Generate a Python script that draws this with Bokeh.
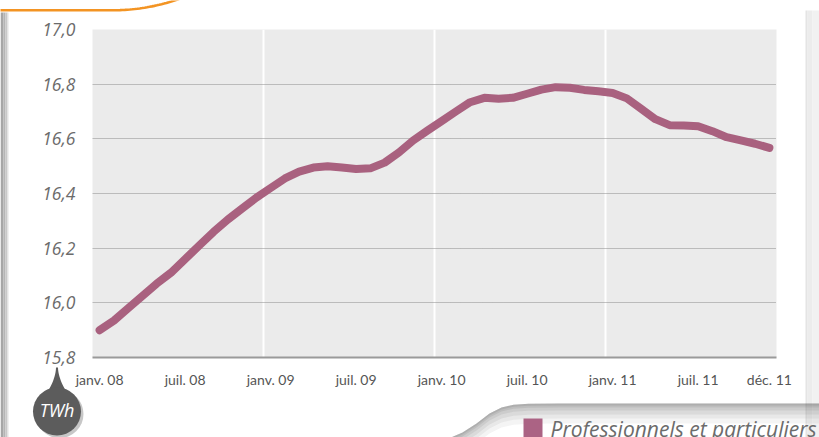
import numpy as np
from bokeh.plotting import figure
from bokeh.models import FixedTicker, CustomJSTickFormatter, Range1d
from bokeh.core.properties import value
from bokeh.embed import file_html
from bokeh.resources import INLINE

# ---------------- data ----------------
months = list(range(48))  # janv. 2008 .. déc. 2011
values = [15.90, 15.935, 15.98, 16.025, 16.07, 16.11, 16.16, 16.21, 16.26, 16.305,
          16.345, 16.385, 16.42, 16.455, 16.48, 16.495, 16.50, 16.495, 16.49, 16.492,
          16.513, 16.55, 16.594, 16.63, 16.665, 16.70, 16.734, 16.75, 16.747, 16.75,
          16.765, 16.78, 16.789, 16.787, 16.779, 16.774, 16.768, 16.748, 16.71, 16.672,
          16.65, 16.649, 16.646, 16.628, 16.606, 16.594, 16.582, 16.567]
tick_months = [0, 6, 12, 18, 24, 30, 36, 42, 47]
tick_labels = ["janv. 08", "juil. 08", "janv. 09", "juil. 09", "janv. 10",
               "juil. 10", "janv. 11", "juil. 11", "déc. 11"]
y_ticks = [15.8, 16.0, 16.2, 16.4, 16.6, 16.8, 17.0]
year_separators = [11.5, 23.5, 35.5]
series_name = "Professionnels et particuliers"
unit = "TWh"

# ---------------- layout ----------------
W, H = 819, 437
FL, FT, FW, FH = 92, 29, 684, 328   # plot frame position (px)
LINE_COLOR = "#a9617f"
GREY_TXT = "#6b6b6b"

# ===== background / decoration layer (pixel coordinates, y downwards) =====
bg = figure(width=W, height=H, x_range=Range1d(0, W), y_range=Range1d(H, 0),
            output_backend="svg", toolbar_location=None,
            x_axis_type=None, y_axis_type=None,
            min_border=0, min_border_left=0, min_border_right=0,
            min_border_top=0, min_border_bottom=0)
bg.background_fill_color = "white"
bg.border_fill_color = "white"
bg.outline_line_color = None
bg.grid.visible = False

# left page shadow
for x0, x1, c in [(0, 3, "#a6a6a6"), (3, 5, "#b4b4b4"), (5, 7, "#c8c8c8"), (7, 8, "#e2e2e2")]:
    bg.quad(left=x0, right=x1, top=12, bottom=H, fill_color=c, line_color=None)
# right page shadow
for x0, x1, c in [(805, 807, "#e4e4e4"), (807, 812, "#ececec"), (812, 819, "#f1f1f1")]:
    bg.quad(left=x0, right=x1, top=10, bottom=H, fill_color=c, line_color=None)

# orange rounded edge at the top left
t = np.linspace(0, 0.36, 30)
ox = np.concatenate([[-5.0], 112 + 200 * np.sin(t)])
oy = np.concatenate([[9.8], -190.2 + 200 * np.cos(t)])
bg.line(ox, oy, line_color="#f39423", line_width=2.6)

# bottom-right tab shadow
ex = np.array([430, 448, 462, 476, 489, 501, 513, 528, 560, 819], dtype=float)
ey = np.array([445, 438, 432, 423, 413, 407, 404.3, 403.2, 403, 403], dtype=float)
for h, a in [(20, 0.05), (15, 0.06), (11, 0.07), (7, 0.08), (4, 0.09), (2, 0.10)]:
    bg.patch(np.concatenate([ex, ex[::-1]]), np.concatenate([ey, ey[::-1] + h]),
             fill_color="#303030", fill_alpha=a, line_color=None)

# legend
bg.quad(left=523, right=542, top=418, bottom=437, fill_color="#ab6384", line_color=None)
bg.text(x=[550], y=[428], text=[series_name], text_font=value("Open Sans"),
        text_font_style="italic", text_font_size="21px", text_color=GREY_TXT,
        text_baseline="alphabetic")

# TWh bubble
cx, cy, r = 56.5, 411, 24
bg.circle(x=[cx + 2.5], y=[cy + 2.5], radius=r, fill_color="black", fill_alpha=0.22,
          line_color=None)
py_ = np.linspace(367, 392, 12)
half = 1.0 + 9.0 * ((py_ - 367) / 25) ** 1.8
bg.patch(np.concatenate([cx - half, (cx + half)[::-1]]), np.concatenate([py_, py_[::-1]]),
         fill_color="#5c5c5c", line_color=None)
bg.circle(x=[cx], y=[cy], radius=r, fill_color="#5c5c5c", line_color=None)
bg.text(x=[cx], y=[409], text=[unit], text_font=value("Open Sans"), text_font_style="italic",
        text_font_size="18px", text_color="white", text_align="center",
        text_baseline="middle")

# ===== main chart (overlaid on the decoration layer) =====
p = figure(width=W, height=H, x_range=Range1d(-0.5, 47.5), y_range=Range1d(15.8, 17.0),
           output_backend="svg", toolbar_location=None,
           min_border_left=FL, min_border_right=W - FL - FW,
           min_border_top=FT, min_border_bottom=H - FT - FH,
           styles={"margin-top": f"-{H}px"})
p.background_fill_color = "#ebebeb"
p.border_fill_color = None
p.outline_line_color = None

# grids
p.ygrid.ticker = FixedTicker(ticks=y_ticks)
p.ygrid.grid_line_color = "#8a8a8a"
p.ygrid.grid_line_dash = "1 1"
p.ygrid.grid_line_width = 1
p.xgrid.ticker = FixedTicker(ticks=year_separators)
p.xgrid.grid_line_color = "white"
p.xgrid.grid_line_width = 2

# y axis
p.yaxis.ticker = FixedTicker(ticks=y_ticks)
p.yaxis.formatter = CustomJSTickFormatter(code="return tick.toFixed(1).replace('.', ',');")
p.yaxis.axis_line_color = None
p.yaxis.major_tick_line_color = None
p.yaxis.minor_tick_line_color = None
p.yaxis.major_label_standoff = 11
p.yaxis.major_label_text_font = "Open Sans"
p.yaxis.major_label_text_font_style = "italic"
p.yaxis.major_label_text_font_size = "17.5px"
p.yaxis.major_label_text_color = GREY_TXT

# x axis
p.xaxis.ticker = FixedTicker(ticks=tick_months)
p.xaxis.major_label_overrides = {m: l for m, l in zip(tick_months, tick_labels)}
p.xaxis.axis_line_color = "#9a9a9a"
p.xaxis.axis_line_width = 2
p.xaxis.major_tick_line_color = None
p.xaxis.minor_tick_line_color = None
p.xaxis.major_label_standoff = 7
p.xaxis.major_label_text_font = "Lato"
p.xaxis.major_label_text_font_size = "14px"
p.xaxis.major_label_text_color = "#555555"

# series
p.line(months, values, line_width=8, line_color=LINE_COLOR, line_cap="round", line_join="round")

open("out.html", "w").write(file_html([bg, p], INLINE))
